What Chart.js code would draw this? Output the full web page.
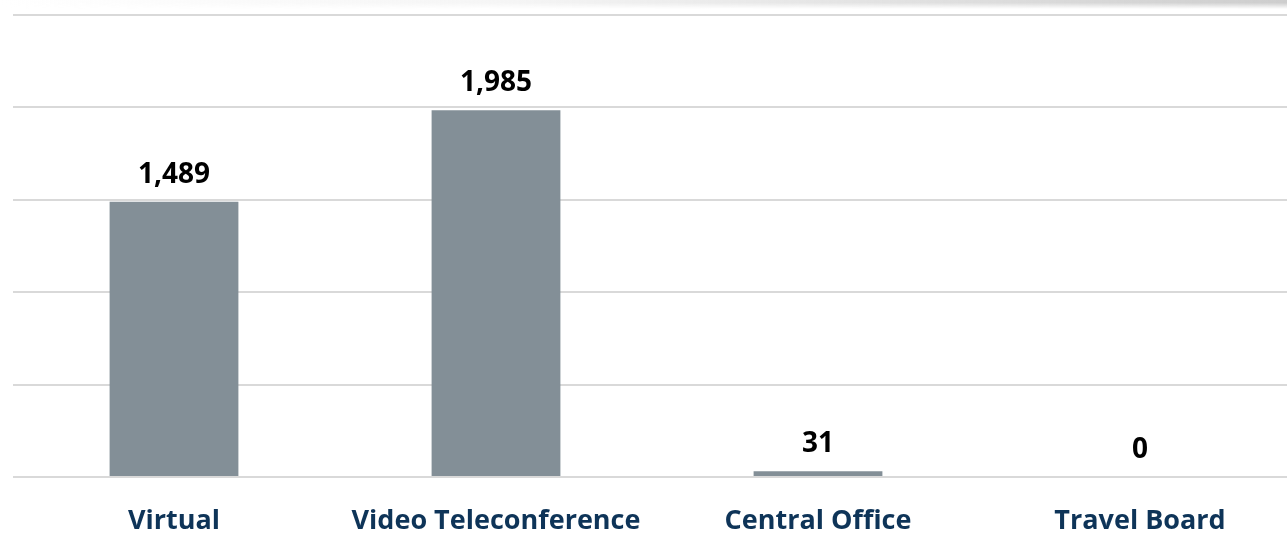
<!DOCTYPE html>
<html>
<head>
<meta charset="utf-8">
<script src="https://cdn.jsdelivr.net/npm/chart.js@4/dist/chart.umd.min.js"></script>
<style>
  html, body { margin: 0; padding: 0; background: #ffffff; overflow: hidden; }
  #wrap { position: relative; width: 1301px; height: 554px; }
  #shade { position: absolute; left: 0; top: 0; width: 1287px; height: 9px;
    background: linear-gradient(to right, rgba(255,255,255,0) 0%, rgba(235,235,235,0.5) 40%, rgba(200,200,200,0.9) 100%);
    -webkit-mask-image: linear-gradient(to bottom, #000 0%, #000 30%, transparent 100%);
    mask-image: linear-gradient(to bottom, #000 0%, #000 30%, transparent 100%); }
</style>
</head>
<body>
<div id="wrap">
  <canvas id="c" width="1301" height="554"></canvas>
  <div id="shade"></div>
</div>
<script>
const categories = ["Virtual", "Video Teleconference", "Central Office", "Travel Board"];
const values = [1489, 1985, 31, 0];
const yMin = 0, yMax = 2500, yStep = 500;

const labelFont = "'Open Sans', 'Noto Sans', sans-serif";

const valueLabels = {
  id: 'valueLabels',
  afterDatasetsDraw(chart) {
    const ctx = chart.ctx;
    const meta = chart.getDatasetMeta(0);
    ctx.save();
    ctx.font = "bold 28px " + labelFont;
    ctx.fillStyle = "#000000";
    ctx.textAlign = "center";
    ctx.textBaseline = "alphabetic";
    meta.data.forEach((bar, i) => {
      const v = chart.data.datasets[0].data[i];
      ctx.fillText(v.toLocaleString('en-US'), bar.x, bar.y - 19);
    });
    ctx.restore();
  }
};

new Chart(document.getElementById('c'), {
  type: 'bar',
  data: {
    labels: categories,
    datasets: [{
      data: values,
      backgroundColor: '#838f97',
      borderWidth: 0,
      barPercentage: 1,
      categoryPercentage: 0.4
    }]
  },
  options: {
    responsive: false,
    animation: false,
    devicePixelRatio: 1,
    layout: { padding: { left: 13, right: 0, top: 15, bottom: 0 } },
    plugins: { legend: { display: false }, tooltip: { enabled: false } },
    scales: {
      x: {
        grid: { display: false, drawTicks: false },
        border: { display: false },
        afterFit: (scale) => { scale.height = 77; },
        ticks: {
          color: '#0e3458',
          padding: 28,
          font: { family: labelFont, size: 27, weight: 'bold' }
        }
      },
      y: {
        min: yMin, max: yMax,
        ticks: { display: false, stepSize: yStep },
        grid: { color: '#d9d9d9', lineWidth: 2, drawTicks: false },
        border: { display: false }
      }
    }
  },
  plugins: [valueLabels]
});
</script>
</body>
</html>
